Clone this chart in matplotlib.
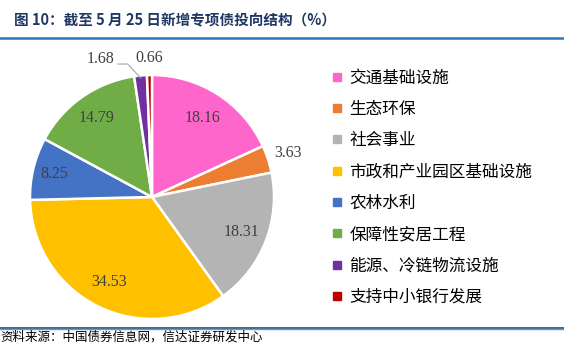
import numpy as np
import matplotlib.pyplot as plt
from matplotlib.lines import Line2D

plt.rcParams['font.family'] = ['Noto Sans CJK SC', 'DejaVu Sans']

# data
categories = ['交通基础设施', '生态环保', '社会事业', '市政和产业园区基础设施',
              '农林水利', '保障性安居工程', '能源、冷链物流设施', '支持中小银行发展']
values = [18.16, 3.63, 18.31, 34.53, 8.25, 14.79, 1.68, 0.66]
value_labels = ['18.16', '3.63', '18.31', '34.53', '8.25', '14.79', '1.68', '0.66']
colors = ['#FF66CC', '#ED7D31', '#B4B4B4', '#FFC000', '#4472C4', '#70AD47', '#7030A0', '#C00000']

W, H = 564, 353
fig = plt.figure(figsize=(W / 100, H / 100), dpi=100)

# pie axes: centre (152,197) px, radius 122 px
cx, cy, r = 152, 197, 122
ax = fig.add_axes([(cx - r) / W, (H - cy - r) / H, 2 * r / W, 2 * r / H])
wedges, _ = ax.pie(values, colors=colors, startangle=90, counterclock=False,
                   radius=1, wedgeprops=dict(edgecolor='white', linewidth=1.8))
ax.set_xlim(-1, 1)
ax.set_ylim(-1, 1)
ax.axis('off')

# value labels
label_font = dict(family='Liberation Serif', fontsize=11.5, color='#404040')
dist = [0.77, 1.17, 0.79, 0.78, 0.82, 0.79, None, 1.14]
for w, lab, d in zip(wedges, value_labels, dist):
    ang = np.deg2rad((w.theta1 + w.theta2) / 2)
    if d is None:
        # leader line label
        ex, ey = 0.98 * np.cos(ang), 0.98 * np.sin(ang)
        ax.plot([ex, -0.2, -0.28], [ey, 1.09, 1.09], color='#A6A6A6', lw=0.8, clip_on=False)
        ax.text(-0.31, 1.13, lab, ha='right', va='center', **label_font)
        continue
    ax.text(d * np.cos(ang), d * np.sin(ang), lab, ha='center', va='center', **label_font)

# legend
handles = [Line2D([0], [0], marker='s', linestyle='', markersize=6,
                  markerfacecolor=c, markeredgecolor=c) for c in colors]
fig.legend(handles, categories, loc='upper left', bbox_to_anchor=(325 / W, 1 - 63 / H),
           frameon=False, fontsize=12, handlelength=0.6, handletextpad=0.45,
           labelspacing=0.86, borderaxespad=0)

# title and rules
fig.text(14 / W, 1 - 20 / H, '图 10：截至 5 月 25 日新增专项债投向结构（%）',
         fontsize=10.5, fontweight='bold', color='#1F3864', va='center', ha='left')
fig.add_artist(Line2D([0, 1], [1 - 38 / H] * 2, color='#2E75B6', lw=1.8))
fig.add_artist(Line2D([0, 1], [1 - 327.5 / H] * 2, color='#1F4E79', lw=1.2))
fig.add_artist(Line2D([0, 1], [1 - 329 / H] * 2, color='#5B9BD5', lw=1.0))
fig.text(0, 1 - 337 / H, '资料来源：中国债券信息网，信达证券研发中心',
         fontsize=9, color='#000000', va='center', ha='left', style='italic')

fig.savefig('out.png', dpi=100)
